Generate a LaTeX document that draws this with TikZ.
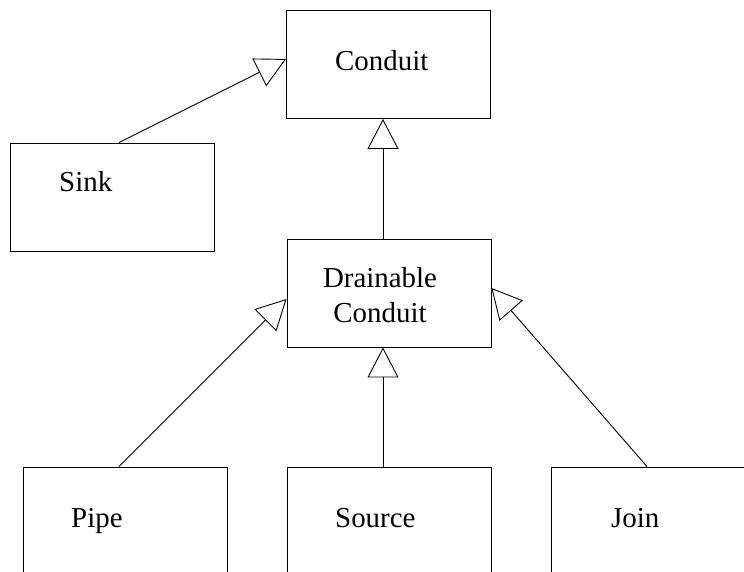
\documentclass[tikz,border=0pt]{standalone}
\usepackage{fontspec}
\setmainfont{Liberation Serif}
\usetikzlibrary{arrows.meta}
\begin{document}
\begin{tikzpicture}[x=1pt, y=-1pt,
  classbox/.style={draw=black, line width=0.9pt, minimum width=204pt,
    minimum height=108pt, inner sep=0pt},
  classname/.style={anchor=base west, inner sep=0pt,
    font=\fontsize{28.9}{35}\selectfont},
  inherits/.style={draw=black, line width=0.9pt,
    -{Triangle[open, length=30pt, width=31pt, line width=0.9pt]}}]
  \useasboundingbox (0,0) rectangle (744,572);

  % class boxes
  \node[classbox] (conduit) at (388.5,64.5) {};
  \node[classbox] (sink)    at (112.5,197) {};
  \node[classbox] (drain)   at (389,293) {};
  \node[classbox] (pipe)    at (125,521) {};
  \node[classbox] (source)  at (389,521) {};
  \node[classbox] (join)    at (653,521) {};

  % class names
  \node[classname] (conduitT) at (335,71) {Conduit};
  \node[classname] (sinkT)    at (59,192) {Sink};
  \node[classname, anchor=base, align=center] (drainT) at (380,322)
    {Drainable\\Conduit};
  \node[classname] (pipeT)    at (71,527) {Pipe};
  \node[classname] (sourceT)  at (335,527) {Source};
  \node[classname] (joinT)    at (611,527) {Join};

  % generalisation connectors
  \draw[inherits] ([xshift=6.5pt]sink.north) -- ([yshift=5.5pt]conduit.west);
  \draw[inherits] ([xshift=-6pt]drain.north) -- ([xshift=-5.5pt]conduit.south);
  \draw[inherits] ([xshift=-6pt]pipe.north) -- ([yshift=-6pt]drain.west);
  \draw[inherits] ([xshift=-6pt]source.north) -- ([xshift=-6pt]drain.south);
  \draw[inherits] ([xshift=-6pt]join.north) -- ([yshift=5pt]drain.east);
\end{tikzpicture}
\end{document}
